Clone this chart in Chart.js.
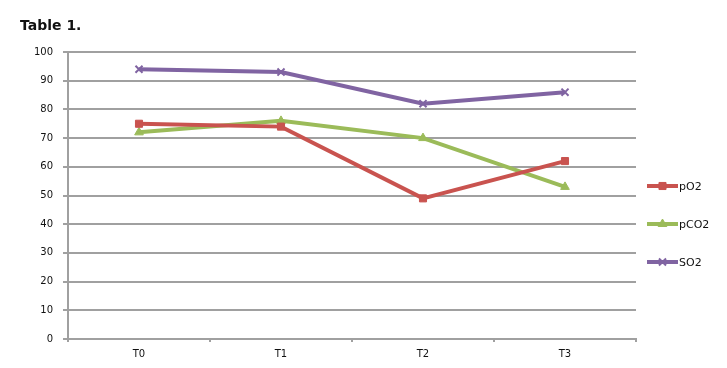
<!DOCTYPE html>
<html>
<head>
<meta charset="utf-8">
<style>
  html, body { margin: 0; padding: 0; background: #fff; }
  #wrap { width: 727px; height: 368px; position: relative; }
</style>
<script src="https://cdn.jsdelivr.net/npm/chart.js@4/dist/chart.umd.min.js"></script>
</head>
<body>
<div id="wrap"><canvas id="chart" width="727" height="368"></canvas></div>
<script>
// ===== DATA =====
const categories = ['T0', 'T1', 'T2', 'T3'];
const pO2 = [75, 74, 49, 62];
const pCO2 = [72, 76, 70, 53];
const SO2 = [94, 93, 82, 86];
const yTicks = [0, 10, 20, 30, 40, 50, 60, 70, 80, 90, 100];

const GRID = '#a0a0a0';

// title + legend drawn by hand, like the spreadsheet original
const decorPlugin = {
  id: 'decor',
  afterDraw(chart) {
    const c = chart.ctx;
    c.save();
    c.fillStyle = '#111';
    c.font = 'bold 14px "DejaVu Sans", sans-serif';
    c.textBaseline = 'middle';
    c.fillText('Table 1.', 20, 26);

    const x0 = 647, x1 = 678;
    let y = 186;
    chart.data.datasets.forEach(ds => {
      c.strokeStyle = ds.borderColor;
      c.fillStyle = ds.backgroundColor;
      c.lineWidth = 4;
      c.beginPath(); c.moveTo(x0, y); c.lineTo(x1, y); c.stroke();
      c.lineWidth = ds.pointBorderWidth;
      Chart.helpers.drawPoint(c, { pointStyle: ds.pointStyle, radius: ds.pointRadius, borderWidth: ds.pointBorderWidth, rotation: 0 }, (x0 + x1) / 2, y);
      c.fillStyle = '#111';
      c.font = '11px "DejaVu Sans", sans-serif';
      c.textBaseline = 'middle';
      c.fillText(ds.label, x1 + 1, y + 1);
      y += 38;
    });
    c.restore();
  }
};

new Chart(document.getElementById('chart'), {
  type: 'line',
  data: {
    labels: categories,
    datasets: [
      { label: 'pO2', data: pO2, borderColor: '#C9534F', backgroundColor: '#C9534F',
        pointStyle: 'rect', pointRadius: 5, borderWidth: 4, pointBorderWidth: 1 },
      { label: 'pCO2', data: pCO2, borderColor: '#9BBB59', backgroundColor: '#9BBB59',
        pointStyle: 'triangle', pointRadius: 5, borderWidth: 4, pointBorderWidth: 1 },
      { label: 'SO2', data: SO2, borderColor: '#8064A2', backgroundColor: '#8064A2',
        pointStyle: 'crossRot', pointRadius: 5, borderWidth: 4, pointBorderWidth: 2 }
    ]
  },
  options: {
    responsive: false,
    animation: false,
    layout: { padding: { left: 0, right: 91, top: 52, bottom: 0 } },
    plugins: { legend: { display: false }, title: { display: false }, tooltip: { enabled: false } },
    elements: { line: { tension: 0 } },
    scales: {
      x: {
        offset: true,
        afterFit: s => { s.height = 29; },
        grid: { offset: true, drawOnChartArea: false, drawTicks: true, tickLength: 3, color: GRID, lineWidth: 2 },
        border: { color: GRID, width: 2 },
        ticks: { color: '#111', font: { family: 'DejaVu Sans', size: 10 }, padding: 6 }
      },
      y: {
        min: 0, max: 100,
        afterFit: s => { s.width = 68; },
        afterBuildTicks: s => { s.ticks = yTicks.map(v => ({ value: v })); },
        grid: { color: GRID, lineWidth: 2, tickLength: 5 },
        border: { color: GRID, width: 2 },
        ticks: { color: '#111', font: { family: 'DejaVu Sans', size: 10 }, padding: 10 }
      }
    }
  },
  plugins: [decorPlugin]
});
</script>
</body>
</html>
